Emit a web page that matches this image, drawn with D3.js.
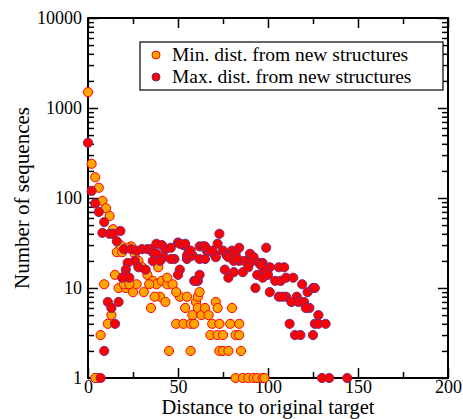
<!DOCTYPE html>
<html>
<head>
<meta charset="utf-8">
<script src="https://cdn.jsdelivr.net/npm/d3@7"></script>
<style>
  body { margin: 0; background: #fff; }
  text { font-family: "Liberation Serif", "DejaVu Serif", serif; fill: #000; }
</style>
</head>
<body>
<svg id="chart" width="463" height="419"></svg>
<script>
// series: [distance, count]
var minDist = [[0,1500],[2,240],[4,170],[6,130],[8,93],[10,77],[12,63],[14,45],[16,25],[24,29],
  [15,14],[9,11],[17,10],[21,10],[22,11],[25,9],[27,11],[31,9],[33,14],[36,12],[38,11],[41,12],
  [44,11],[47,11],[40,8],[37,8],[43,7],[35,6],[51,8],[54,6],[49,4],[53,4],[57,4],[11,4],[13,5],
  [7,3],[45,2],[57,2],[5,1],[4,1],[20,11],[23,11],[34,11],[49,9],[55,8],[59,4],[60,7],[61,6],
  [58,5],[63,5],[65,6],[67,5],[69,4],[71,7],[72,6],[73,4],[68,3],[72,3],[75,3],[79,4],[84,4],
  [80,6],[82,3],[84,3],[61,8],[62,9],[73,2],[75,2],[78,2],[85,2],[82,1],[86,1],[89,1],[92,1],
  [94,1],[97,1],[98,1],[19,25],[28,20],[30,17],[39,17],[44,13],[18,30],[22,28],[26,24]];

var maxDist = [[0,410],[2,120],[4,87],[6,70],[9,54],[8,41],[12,40],[14,40],[18,43],[16,33],
  [20,27],[24,27],[27,26],[30,27],[33,27],[35,27],[38,31],[41,30],[43,27],[46,28],[50,32],[53,30],
  [56,26],[58,23],[62,29],[66,26],[36,25],[38,24],[42,22],[48,21],[26,20],[22,19],[28,17],[32,16],
  [21,16],[21,14],[19,13],[23,13],[36,20],[40,20],[46,21],[55,21],[51,16],[50,14],[59,12],[61,12],
  [62,14],[11,7],[17,7],[13,6],[15,4],[9,2],[7,1],[73,40],[64,29],[72,31],[67,26],[70,24],[75,26],
  [80,26],[84,28],[99,28],[51,31],[54,31],[55,23],[58,23],[62,21],[65,21],[71,22],[77,23],[81,20],
  [90,24],[92,22],[84,20],[87,20],[90,19],[95,19],[97,19],[101,17],[106,17],[109,17],[98,16],
  [76,16],[81,15],[86,15],[89,17],[94,14],[97,13],[100,14],[104,12],[107,12],[110,13],[114,13],
  [119,11],[122,9],[125,10],[126,10],[93,10],[101,9],[106,8],[110,8],[116,8],[113,7],[117,7],
  [120,7],[123,6],[121,6],[112,4],[126,4],[128,4],[132,4],[128,5],[115,3],[118,3],[125,3],
  [130,1],[134,1],[144,1],[78,13],[65,29],[69,26],[78,22],[82,24],[83,21],[96,18],[108,8],
  [57,26],[60,12]];

var xTicks = [0, 50, 100, 150, 200];
var xMinor = [25, 75, 125, 175];
var yTicks = [1, 10, 100, 1000, 10000];
var legendLabels = ["Min. dist. from new structures", "Max. dist. from new structures"];

var svg = d3.select("#chart");

var x = d3.scaleLinear().domain([0, 200]).range([88, 448]);
var y = d3.scaleLog().domain([1, 10000]).range([378, 18]);

var yMinor = [];
yTicks.slice(0, -1).forEach(function(t) {
  for (var k = 2; k <= 9; k++) yMinor.push(t * k);
});

// frame
svg.append("rect")
    .attr("x", 88).attr("y", 18)
    .attr("width", 360).attr("height", 360)
    .attr("fill", "none").attr("stroke", "#000").attr("stroke-width", 2);

function tickAxis(axis, vals, size, tr, labels) {
  var g = svg.append("g")
      .attr("transform", tr)
      .call(axis.tickValues(vals).tickSize(size).tickSizeOuter(0).tickPadding(6)
        .tickFormat(labels ? d3.format("d") : ""));
  g.select(".domain").remove();
  g.selectAll(".tick line").attr("stroke", "#000").attr("stroke-width", 1.5);
  g.selectAll(".tick text").style("font-size", "18px").attr("font-family", null);
  return g;
}

// bottom / top
var gb = tickAxis(d3.axisBottom(x), xTicks, -10, "translate(0,378)", true);
gb.selectAll(".tick text").attr("y", 2);
tickAxis(d3.axisBottom(x), xMinor, -6, "translate(0,378)", false);
tickAxis(d3.axisTop(x), xTicks, -10, "translate(0,18)", false);
tickAxis(d3.axisTop(x), xMinor, -6, "translate(0,18)", false);

// left / right
var gl = tickAxis(d3.axisLeft(y), yTicks, -10, "translate(88,0)", true);
gl.selectAll(".tick text").attr("x", -6);
tickAxis(d3.axisLeft(y), yMinor, -6, "translate(88,0)", false);
tickAxis(d3.axisRight(y), yTicks, -10, "translate(448,0)", false);
tickAxis(d3.axisRight(y), yMinor, -6, "translate(448,0)", false);

// axis titles
svg.append("text")
    .attr("x", 268).attr("y", 414)
    .attr("text-anchor", "middle")
    .style("font-size", "20.5px")
    .text("Distance to original target");

svg.append("text")
    .attr("transform", "translate(29,198) rotate(-90)")
    .attr("text-anchor", "middle")
    .style("font-size", "21px")
    .text("Number of sequences");

// points
var styles = [
  {data: minDist, fill: "#ffa500", stroke: "#ff0000"},
  {data: maxDist, fill: "#ff0000", stroke: "#7a2a78"}
];

styles.forEach(function(s) {
  svg.append("g").selectAll("circle")
      .data(s.data)
    .enter().append("circle")
      .attr("cx", function(d) { return x(d[0]); })
      .attr("cy", function(d) { return y(d[1]); })
      .attr("r", 4.6)
      .attr("fill", s.fill)
      .attr("stroke", s.stroke)
      .attr("stroke-width", 1);
});

// legend
var leg = svg.append("g");
leg.append("rect")
    .attr("x", 140).attr("y", 42)
    .attr("width", 303).attr("height", 48)
    .attr("fill", "#fff").attr("stroke", "#000").attr("stroke-width", 1.2);

legendLabels.forEach(function(label, i) {
  var cy = 55 + i * 22;
  leg.append("circle")
      .attr("cx", 156).attr("cy", cy).attr("r", 4)
      .attr("fill", styles[i].fill)
      .attr("stroke", styles[i].stroke)
      .attr("stroke-width", 1);
  leg.append("text")
      .attr("x", 172).attr("y", cy + 6)
      .style("font-size", "19.5px")
      .text(label);
});
</script>
</body>
</html>
